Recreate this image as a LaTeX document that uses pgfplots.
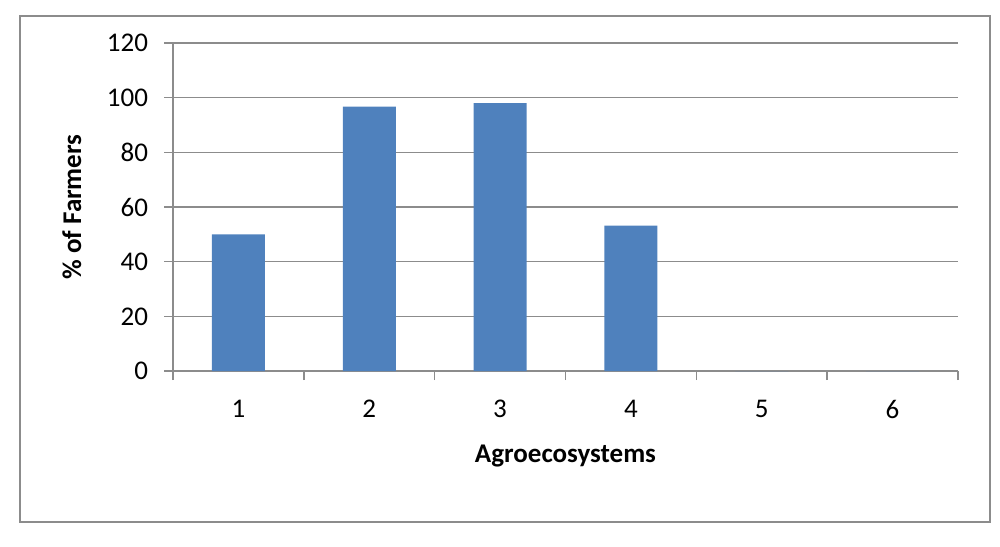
\documentclass[border=0pt]{standalone}
\usepackage{pgfplots}
\pgfplotsset{compat=1.18}
\usepackage{fontspec}
\setmainfont{Carlito}
\definecolor{barblue}{HTML}{4F81BD}
\definecolor{gridgray}{HTML}{8C8C8C}
\begin{document}
\begin{tikzpicture}
\useasboundingbox (0pt,0pt) rectangle (500pt,273pt);
\draw[gridgray, line width=1pt] (10pt,12pt) rectangle (495pt,265pt);
\begin{axis}[
  at={(86.5pt,87.5pt)}, anchor=south west,
  scale only axis, width=392.5pt, height=164pt,
  xmin=0.5, xmax=6.5, ymin=0, ymax=120,
  ytick={0,20,...,120},
  xtick={0.5,1.5,...,6.5},
  xticklabels={,,,,,,},
  extra x ticks={1,2,3,4,5,6},
  extra x tick labels={1,2,3,4,5,6},
  extra x tick style={tick style={draw=none}, grid=none},
  /pgf/number format/assume math mode=true,
  axis x line*=bottom, axis y line*=left,
  axis line style={gridgray,-, line width=0.8pt},
  tick style={gridgray, line width=0.8pt},
  tick align=outside, major tick length=4.5pt,
  ymajorgrids, grid style={gridgray, line width=0.8pt},
  every tick label/.append style={font=\fontsize{13.5}{16}\selectfont},
  yticklabel style={xshift=-4.5pt},
  xticklabel style={yshift=-6.5pt},
  label style={font=\fontsize{13.5}{16}\selectfont\bfseries},
  xlabel={Agroecosystems},
  ylabel={\% of Farmers},
  xlabel style={at={(axis description cs:0.5,-0.258)}, anchor=center},
  ylabel style={at={(axis description cs:-0.129,0.5)}, anchor=center},
  clip=false,
]
\addplot[ybar, bar width=26.5pt, fill=barblue, draw=none] coordinates {
  (1,50) (2,96.7) (3,98) (4,53.2) (5,0) (6,0)
};
\end{axis}
\end{tikzpicture}
\end{document}
